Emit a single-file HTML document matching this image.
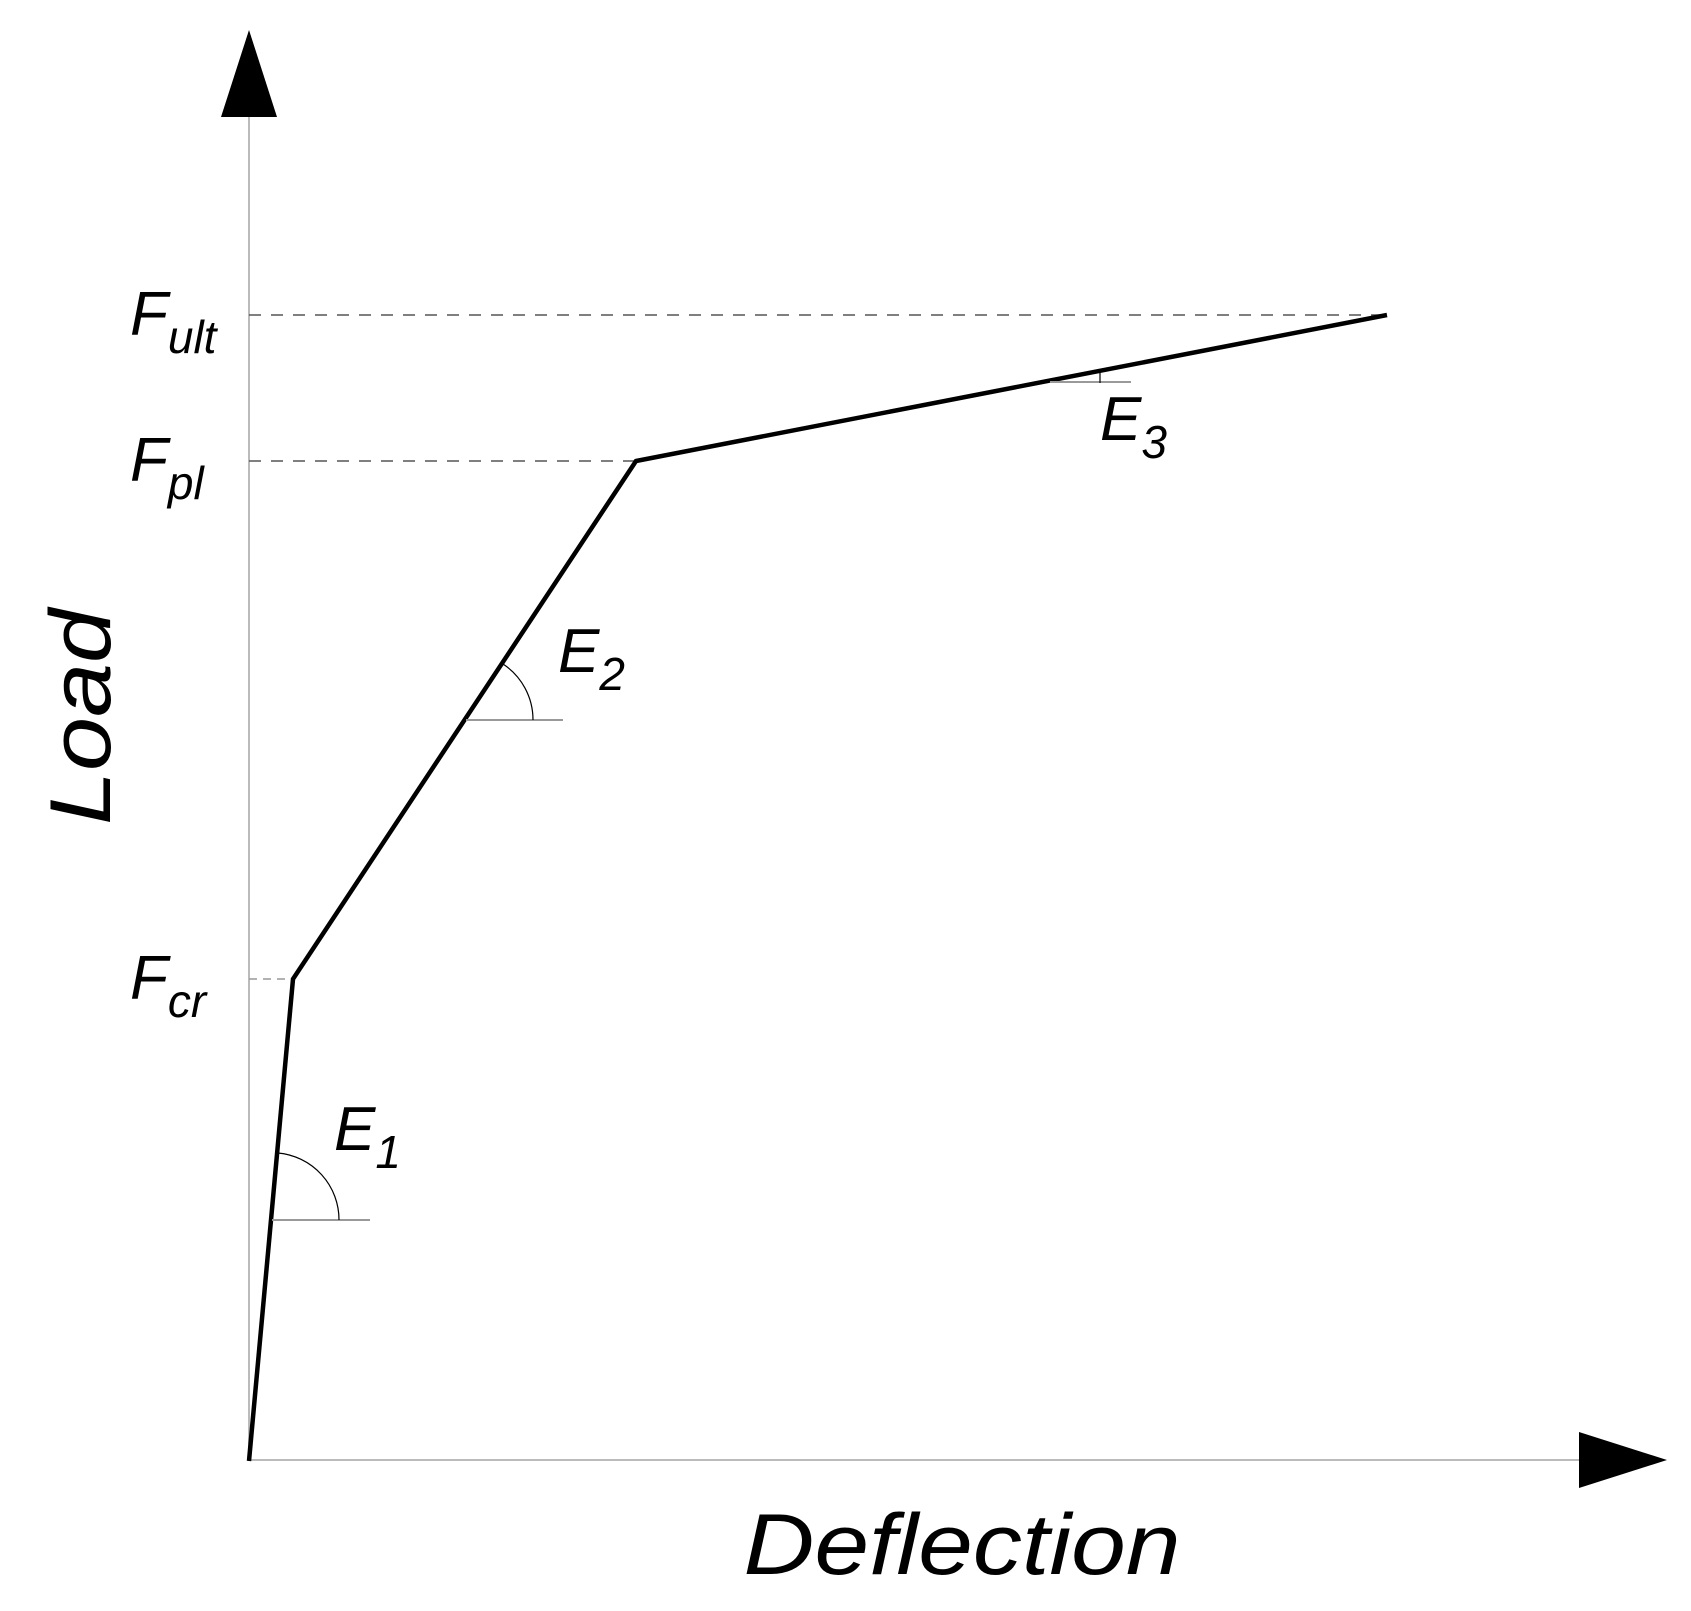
<!DOCTYPE html>
<html><head><style>html,body{margin:0;padding:0;background:#fff}svg{display:block}</style></head>
<body>
<svg width="1691" height="1611" viewBox="0 0 1691 1611" xmlns="http://www.w3.org/2000/svg" font-family="Liberation Sans, sans-serif" font-style="italic">
<line x1="249" y1="117" x2="249" y2="1461" stroke="#bbb" stroke-width="2"/>
<line x1="249" y1="1460" x2="1580" y2="1460" stroke="#bbb" stroke-width="2"/>
<polygon points="249,30 221,117 277,117" fill="#000"/>
<polygon points="1667,1460 1579,1432 1579,1488" fill="#000"/>
<g stroke="#555" stroke-width="1.5" stroke-dasharray="12,10">
<line x1="249" y1="315" x2="1387" y2="315"/>
<line x1="249" y1="461" x2="636" y2="461"/>
</g>
<line x1="249" y1="979" x2="293" y2="979" stroke="#999" stroke-width="1.5" stroke-dasharray="8,6"/>
<polyline points="249,1461 293,979 636,461 1387,315" fill="none" stroke="#000" stroke-width="4.5"/>
<g stroke="#999" stroke-width="2" fill="none">
<line x1="272" y1="1220" x2="370" y2="1220"/>
<line x1="466" y1="720" x2="563" y2="720"/>
<line x1="1050" y1="382" x2="1131" y2="382"/>
</g>
<g stroke="#000" stroke-width="1.2" fill="none">
<path d="M339,1220 A67,67 0 0 0 278,1153"/>
<path d="M533,720 A67,67 0 0 0 503,664"/>
<line x1="1100" y1="372" x2="1100" y2="383"/>
</g>
<g font-size="62" fill="#000">
<text x="130" y="335">F<tspan font-size="46" dy="18">ult</tspan></text>
<text x="130" y="481">F<tspan font-size="46" dy="18">pl</tspan></text>
<text x="130" y="999">F<tspan font-size="46" dy="18">cr</tspan></text>
<text x="334" y="1150">E<tspan font-size="46" dy="18">1</tspan></text>
<text x="558" y="672">E<tspan font-size="46" dy="18">2</tspan></text>
<text x="1100" y="440">E<tspan font-size="46" dy="18">3</tspan></text>
</g>
<text x="0" y="0" font-size="86" transform="translate(110,717) rotate(-90)" text-anchor="middle" textLength="216" lengthAdjust="spacingAndGlyphs">Load</text>
<text x="962" y="1574" font-size="86" text-anchor="middle" textLength="437" lengthAdjust="spacingAndGlyphs">Deflection</text>
</svg>
</body></html>
